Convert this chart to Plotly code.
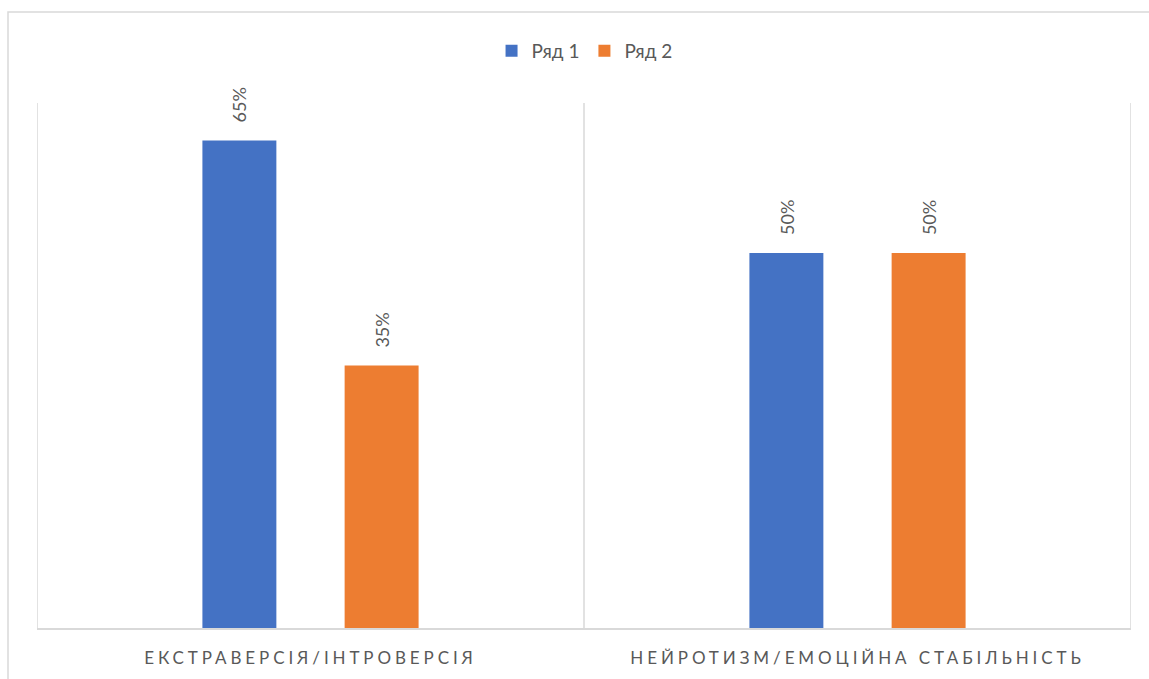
import plotly.graph_objects as go

categories = ["ЕКСТРАВЕРСІЯ/ІНТРОВЕРСІЯ", "НЕЙРОТИЗМ/ЕМОЦІЙНА СТАБІЛЬНІСТЬ"]
series_names = ["Ряд 1", "Ряд 2"]
series_1 = [0.65, 0.50]
series_2 = [0.35, 0.50]
colors = ["#4472C4", "#ED7D31"]

TEXT = "#595959"
GRID = "#D9D9D9"
FONT = "Lato, Carlito, 'Open Sans', sans-serif"

W, H = 1149, 679
ML, MR, MT, MB = 37, 18, 103, 51
plot_w = W - ML - MR
plot_h = H - MT - MB

fig = go.Figure()
positions = list(range(len(categories)))
for name, vals, col in zip(series_names, [series_1, series_2], colors):
    fig.add_trace(go.Bar(
        x=positions, y=vals, name=name, marker_color=col,
        marker_line_width=0,
    ))

# rotated value labels above each bar
offset = 0.13
for k, vals in enumerate([series_1, series_2]):
    dx = -offset if k == 0 else offset
    for i, v in enumerate(vals):
        fig.add_annotation(
            x=i + dx, y=v, xref="x", yref="y",
            text=f"{round(v * 100)}%", showarrow=False,
            textangle=-90, yanchor="bottom", yshift=16,
            font=dict(family=FONT, size=18, color=TEXT),
        )

# category separators (vertical gridlines between groups)
for xb in [-0.5, 0.5, 1.5]:
    fig.add_shape(type="line", xref="x", yref="y", x0=xb, x1=xb, y0=0, y1=0.7,
                  line=dict(color=GRID, width=1.5), layer="below")

# chart-area border
def px_to_paper_x(px):
    return (px - ML) / plot_w

def py_to_paper_y(py):
    return (H - MB - py) / plot_h

fig.add_shape(type="rect", xref="paper", yref="paper",
              x0=px_to_paper_x(8), x1=px_to_paper_x(1170),
              y0=py_to_paper_y(700), y1=py_to_paper_y(12),
              line=dict(color=GRID, width=1.5), fillcolor="rgba(0,0,0,0)",
              layer="below")

fig.update_layout(
    width=W, height=H,
    margin=dict(l=ML, r=MR, t=MT, b=MB),
    paper_bgcolor="white", plot_bgcolor="white",
    barmode="group", bargap=0.48, bargroupgap=0.48,
    font=dict(family=FONT, color=TEXT),
    showlegend=True,
    legend=dict(orientation="h", x=0.5005, xanchor="center",
                y=py_to_paper_y(51), yanchor="middle",
                font=dict(family=FONT, size=19, color=TEXT),
                itemwidth=30, traceorder="normal"),
    xaxis=dict(
        range=[-0.5, 1.5], tickmode="array", tickvals=positions,
        ticktext=categories, showgrid=False, zeroline=False,
        showline=True, linecolor=GRID, linewidth=1.5, ticks="",
        tickfont=dict(family=FONT, size=17, color=TEXT),
        ticklabelstandoff=14,
    ),
    yaxis=dict(range=[0, 0.7], visible=False, showgrid=False, zeroline=False),
)

# spaced-out category labels
post = """
var st = document.createElement('style');
st.innerHTML = '.xtick text { letter-spacing: 3.9px; }';
document.head.appendChild(st);
"""
fig.write_html("out.html", post_script=post)
